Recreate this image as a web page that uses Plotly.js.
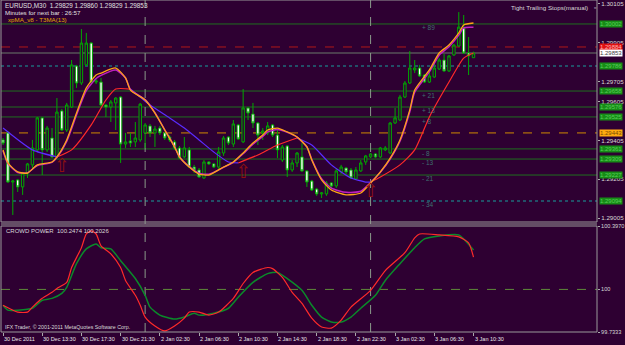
<!DOCTYPE html>
<html><head><meta charset="utf-8">
<script src="https://cdn.plot.ly/plotly-3.0.1.min.js"></script>
<style>html,body{margin:0;padding:0;background:#2e0032;}#c{width:625px;height:345px;}</style>
</head><body><div id="c"></div>
<script>
// ---- data ----
const timeLabels = ['30 Dec 2011','30 Dec 13:30','30 Dec 17:30','30 Dec 21:30','2 Jan 02:30','2 Jan 06:30','2 Jan 10:30','2 Jan 14:30','2 Jan 18:30','2 Jan 22:30','3 Jan 02:30','3 Jan 06:30','3 Jan 10:30'];
const timeTickIdx = [0,8,16,24,32,40,48,56,64,72,80,88,96];

const openP = [1.29407,1.29443,1.29191,1.29202,1.29166,1.29237,1.29279,1.29356,1.29520,1.29356,
1.29417,1.29320,1.29556,1.29458,1.29576,1.29786,1.29699,1.29792,1.29904,1.29704,
1.29704,1.29586,1.29576,1.29597,1.29627,1.29386,1.29402,1.29397,1.29407,1.29443,
1.29479,1.29443,1.29468,1.29443,1.29422,1.29397,1.29366,1.29320,1.29356,1.29268,
1.29253,1.29212,1.29294,1.29284,1.29268,1.29340,1.29422,1.29386,1.29484,1.29397,
1.29571,1.29540,1.29494,1.29443,1.29443,1.29484,1.29432,1.29304,1.29376,1.29253,
1.29289,1.29320,1.29248,1.29196,1.29155,1.29130,1.29130,1.29186,1.29171,1.29243,
1.29263,1.29253,1.29207,1.29248,1.29294,1.29320,1.29335,1.29320,1.29356,1.29340,
1.29494,1.29509,1.29627,1.29699,1.29766,1.29776,1.29740,1.29704,1.29730,1.29771,
1.29817,1.29761,1.29843,1.29889,1.29981,1.29853,1.29829];
const highP = [1.29417,1.29453,1.29202,1.29207,1.29243,1.29289,1.29407,1.29525,1.29525,1.29479,
1.29468,1.29622,1.29566,1.29597,1.29817,1.29792,1.29976,1.29956,1.29909,1.29725,
1.29725,1.29591,1.29612,1.29627,1.29632,1.29443,1.29443,1.29499,1.29597,1.29494,
1.29489,1.29479,1.29479,1.29448,1.29432,1.29407,1.29376,1.29422,1.29371,1.29279,
1.29263,1.29304,1.29299,1.29289,1.29371,1.29427,1.29427,1.29509,1.29489,1.29668,
1.29576,1.29597,1.29499,1.29468,1.29499,1.29489,1.29458,1.29381,1.29381,1.29304,
1.29345,1.29391,1.29253,1.29202,1.29161,1.29140,1.29196,1.29191,1.29263,1.29279,
1.29268,1.29263,1.29268,1.29304,1.29330,1.29340,1.29340,1.29371,1.29376,1.29499,
1.29571,1.29638,1.29709,1.29863,1.29817,1.29792,1.29745,1.29756,1.29802,1.29827,
1.29848,1.29843,1.29899,1.30063,1.30048,1.29935,1.29860];
const lowP = [1.29381,1.29186,1.29022,1.29140,1.29125,1.29212,1.29263,1.29345,1.29227,1.29345,
1.29314,1.29314,1.29453,1.29448,1.29571,1.29674,1.29689,1.29786,1.29699,1.29694,
1.29581,1.29525,1.29499,1.29458,1.29289,1.29366,1.29371,1.29371,1.29397,1.29366,
1.29422,1.29371,1.29432,1.29407,1.29397,1.29356,1.29309,1.29314,1.29263,1.29237,
1.29212,1.29207,1.29279,1.29263,1.29258,1.29325,1.29381,1.29371,1.29407,1.29391,
1.29509,1.29468,1.29381,1.29407,1.29432,1.29422,1.29314,1.29294,1.29217,1.29243,
1.29268,1.29243,1.29166,1.29145,1.29120,1.29109,1.29120,1.29155,1.29161,1.29232,
1.29232,1.29207,1.29202,1.29243,1.29279,1.29314,1.29314,1.29314,1.29350,1.29335,
1.29489,1.29504,1.29622,1.29694,1.29750,1.29730,1.29699,1.29699,1.29725,1.29766,
1.29756,1.29756,1.29838,1.29884,1.29848,1.29740,1.29829];
const closeP = [1.29391,1.29191,1.29196,1.29166,1.29237,1.29284,1.29366,1.29520,1.29356,1.29468,
1.29320,1.29550,1.29458,1.29586,1.29792,1.29699,1.29904,1.29904,1.29704,1.29709,
1.29586,1.29576,1.29602,1.29622,1.29386,1.29397,1.29391,1.29417,1.29591,1.29484,
1.29443,1.29463,1.29443,1.29417,1.29407,1.29366,1.29314,1.29366,1.29268,1.29253,
1.29217,1.29294,1.29284,1.29268,1.29345,1.29417,1.29391,1.29489,1.29412,1.29571,
1.29545,1.29494,1.29432,1.29453,1.29479,1.29432,1.29356,1.29371,1.29253,1.29289,
1.29340,1.29248,1.29191,1.29150,1.29130,1.29135,1.29186,1.29171,1.29248,1.29268,
1.29243,1.29212,1.29253,1.29289,1.29325,1.29335,1.29320,1.29366,1.29366,1.29494,
1.29520,1.29627,1.29699,1.29776,1.29776,1.29735,1.29704,1.29735,1.29776,1.29817,
1.29761,1.29838,1.29894,1.29986,1.29853,1.29838,1.29853];

const fastIdx = [0,1,3,5,7,10,11,13,15,17,19,20,23,25,26,29,31,33,35,36,38,40,42,45,47,49,51,53,54,56,58,60,62,63,65,67,70,73,75,77,79,81,83,84,87,89,91,93,94,96];
const t3maVal = [1.29356,1.29289,1.29243,1.29237,1.29279,1.29294,1.29320,1.29407,1.29545,1.29674,1.29740,1.29750,1.29776,1.29725,1.29663,1.29612,1.29545,1.29458,1.29371,1.29320,1.29268,1.29232,1.29227,1.29268,1.29294,1.29340,1.29391,1.29432,1.29458,1.29468,1.29448,1.29422,1.29371,1.29304,1.29202,1.29150,1.29125,1.29135,1.29186,1.29243,1.29314,1.29407,1.29561,1.29663,1.29766,1.29853,1.29894,1.29956,1.29997,1.30007];
const xpmaFastVal = [1.29352,1.29286,1.29240,1.29239,1.29276,1.29292,1.29317,1.29400,1.29535,1.29660,1.29722,1.29738,1.29766,1.29725,1.29666,1.29614,1.29547,1.29459,1.29373,1.29321,1.29270,1.29236,1.29231,1.29266,1.29292,1.29336,1.29385,1.29425,1.29448,1.29460,1.29446,1.29422,1.29372,1.29308,1.29208,1.29160,1.29138,1.29144,1.29188,1.29241,1.29309,1.29400,1.29552,1.29652,1.29756,1.29842,1.29885,1.29945,1.29982,1.29985];

const slowIdx = [0,6,11,14,18,21,23,26,30,34,37,40,43,46,48,52,56,60,63,67,71,74,75,77,81,84,87,91,94,96];
const slowVal = [1.29468,1.29356,1.29320,1.29356,1.29484,1.29612,1.29668,1.29668,1.29586,1.29520,1.29468,1.29407,1.29345,1.29294,1.29289,1.29330,1.29381,1.29417,1.29381,1.29279,1.29212,1.29191,1.29191,1.29217,1.29279,1.29356,1.29525,1.29704,1.29827,1.29853];

const stopLevels = [1.30002,1.29658,1.29576,1.29525,1.29361,1.29309,1.29227];
const dottedLevels = [1.29786,1.29094];
const redLevel = 1.29884;
const orangeLevel = 1.29443;
const lastPrice = 1.29853;

const fibText = ['+ 89','+ 21','+ 13','+ 8','- 8','- 13','- 21','- 34'];
const fibPrice = [1.29986,1.29633,1.29556,1.29504,1.29340,1.29289,1.29207,1.29078];
const fibBar = 85;

const arrowBar = [12,49,75];
const arrowPrice = [1.29268,1.29237,1.29140];

const sepBars = [29,75];

const priceTicks = [1.30105,1.29905,1.29705,1.29605,1.29405,1.29205,1.29005];

const cpRedIdx = [0,3,5,6,8,10,11,13,14,16,17,18,19,20,22,24,25,27,28,29,31,33,35,37,38,40,42,44,47,49,51,54,55,57,59,61,63,65,67,69,71,75,78,82,84,85,89,93,95,96];
const cpRedVal = [99.901,99.858,99.858,99.889,99.944,99.982,100.006,100.044,100.137,100.261,100.347,100.366,100.347,100.273,100.223,100.137,100.056,99.963,99.901,99.827,99.771,99.740,99.771,99.820,99.858,99.858,99.839,99.858,99.944,100.037,100.106,100.137,100.130,100.075,99.982,99.913,99.820,99.765,99.758,99.808,99.889,99.994,100.118,100.230,100.323,100.347,100.341,100.329,100.292,100.2026];
const cpGreenIdx = [0,1,3,6,8,10,12,13,15,17,19,20,22,24,27,29,30,32,35,37,39,40,43,46,48,51,54,56,58,61,63,65,67,69,71,73,76,78,81,84,86,89,93,94,96];
const cpGreenVal = [99.901,99.870,99.870,99.882,99.932,99.944,99.975,100.013,100.161,100.254,100.285,100.261,100.254,100.180,100.068,99.963,99.889,99.839,99.814,99.827,99.851,99.839,99.851,99.882,99.951,100.044,100.099,100.106,100.068,99.994,99.901,99.827,99.796,99.796,99.827,99.882,99.963,100.056,100.161,100.261,100.316,100.335,100.341,100.316,100.2474];

// ---- layout constants ----
const BG = '#2e0032';
const PH = 332; // plot height px
const upperBottom = 1 - 222/PH;
const lowerTop = 1 - 226/PH;
const FONT = 'Liberation Sans, Arial, sans-serif';
const GREEN = '#1f6e1f';

const bars = openP.map((_, i) => i);
const traces = [];

traces.push({type:'candlestick', x:bars, open:openP, high:highP, low:lowP, close:closeP,
  xaxis:'x', yaxis:'y', hoverinfo:'skip', whiskerwidth:0,
  increasing:{line:{color:'#00a800', width:1}, fillcolor:BG},
  decreasing:{line:{color:'#00a800', width:1}, fillcolor:'#ffffff'}});

// slow MA coloured by slope
let runs = [];
let cur = null;
for (let i = 0; i < slowIdx.length - 1; i++) {
  const d = slowVal[i+1] - slowVal[i];
  let col = d > 0 ? '#ff2a2a' : (d < 0 ? '#5a2cff' : (cur ? cur.col : '#5a2cff'));
  if (!cur || cur.col !== col) { cur = {col, xs:[slowIdx[i]], ys:[slowVal[i]]}; runs.push(cur); }
  cur.xs.push(slowIdx[i+1]); cur.ys.push(slowVal[i+1]);
}
runs.forEach(r => traces.push({type:'scatter', mode:'lines', x:r.xs, y:r.ys, xaxis:'x', yaxis:'y',
  line:{color:r.col, width:1.2, shape:'spline', smoothing:0.6}, hoverinfo:'skip'}));

traces.push({type:'scatter', mode:'lines', x:fastIdx, y:xpmaFastVal, xaxis:'x', yaxis:'y',
  line:{color:'#c020c0', width:1.5, shape:'spline', smoothing:0.6}, hoverinfo:'skip'});
traces.push({type:'scatter', mode:'lines', x:fastIdx, y:t3maVal, xaxis:'x', yaxis:'y',
  line:{color:'#ffa516', width:1.3, shape:'spline', smoothing:0.6}, hoverinfo:'skip'});

// hollow up arrows (signal marks)
traces.push({type:'scatter', mode:'text', x:arrowBar, y:arrowPrice, xaxis:'x', yaxis:'y', text:arrowBar.map(()=>'\u21E7'),
  textfont:{family:'DejaVu Sans, Noto Sans, sans-serif', size:19, color:'#8e1010'}, textposition:'middle center', hoverinfo:'skip'});

traces.push({type:'scatter', mode:'lines', x:cpGreenIdx, y:cpGreenVal, xaxis:'x', yaxis:'y2',
  line:{color:'#0a8a2a', width:1.5, shape:'spline', smoothing:0.6}, hoverinfo:'skip'});
traces.push({type:'scatter', mode:'lines', x:cpRedIdx, y:cpRedVal, xaxis:'x', yaxis:'y2',
  line:{color:'#ff2a2a', width:1.2, shape:'spline', smoothing:0.6}, hoverinfo:'skip'});

const shapes = [];
const hl = (y, color, dash, w) => shapes.push({type:'line', xref:'paper', x0:0, x1:1, yref:'y', y0:y, y1:y, line:{color, width:w||1, dash:dash||'solid'}, layer:'below'});
stopLevels.forEach(v => hl(v, GREEN));
dottedLevels.forEach(v => hl(v, '#1f6a7a', 'dot', 1.5));
hl(redLevel, '#b01818', 'dash');
hl(orangeLevel, '#d08a00', 'dash');
hl(lastPrice, '#6a7a6a');
sepBars.forEach(b => shapes.push({type:'line', xref:'x', x0:b, x1:b, yref:'paper', y0:0, y1:1, line:{color:'#8a9a8a', width:1, dash:'dash'}, layer:'below'}));
shapes.push({type:'line', xref:'paper', x0:0, x1:1, yref:'y2', y0:100, y1:100, line:{color:'#5f8a3a', width:1, dash:'dash'}, layer:'below'});
shapes.push({type:'rect', xref:'paper', x0:0, x1:1, yref:'paper', y0:upperBottom, y1:1, line:{color:'#9a9a9a', width:1}});
shapes.push({type:'rect', xref:'paper', x0:0, x1:1, yref:'paper', y0:0, y1:lowerTop, line:{color:'#9a9a9a', width:1}});
shapes.push({type:'line', xref:'paper', x0:0, x1:1, yref:'paper', y0:upperBottom-2/PH, y1:upperBottom-2/PH, line:{color:'#9a9a9a', width:1}});

const ann = [];
const tx = (text, x, ypx, color, size, anchor) => ann.push({text, xref:'paper', yref:'paper', x, y:1-ypx/PH, xanchor:anchor||'left', yanchor:'middle', showarrow:false, font:{family:FONT, size:size||6, color}});
tx('EURUSD,M30  1.29829 1.29860 1.29829 1.29853', 0.004, 5.5, '#e0e0e0', 6.4);
tx('Minutes for next bar : 26:57', 0.004, 12.5, '#e0e0e0', 6.2);
tx('xpMA_v8 - T3MA(13)', 0.008, 19.5, '#e0a800', 6.2);
tx('Tight Trailing Stops(manual)', 0.988, 7, '#d8d8d8', 6.2, 'right');
tx('\u25AB', 0.992, 7, '#d8d8d8', 7);
tx('CROWD POWER  100.2474 100.2026', 0.005, 231, '#d8d8d8', 6);
tx('IFX Trader, \u00A9 2001-2011 MetaQuotes Software Corp.', 0.003, 326.5, '#d8d8d8', 5.3);

// time labels, left-aligned at their bar
timeTickIdx.forEach((b, i) => ann.push({text:timeLabels[i], xref:'x', yref:'paper', x:b, y:-6.5/PH, xanchor:'left', yanchor:'middle', xshift:-1, showarrow:false, font:{family:FONT, size:5.5, color:'#e6e6e6'}}));

fibText.forEach((t, i) => ann.push({text:t, xref:'x', yref:'y', x:fibBar, y:fibPrice[i], xanchor:'left', yanchor:'middle', showarrow:false, font:{family:FONT, size:6.5, color:'#3f7070'}}));

const box = (v, bg, fg) => ann.push({text:v.toFixed(5), xref:'paper', yref:'y', x:1.004, y:v, xanchor:'left', yanchor:'middle', showarrow:false, bgcolor:bg, borderpad:0, font:{family:FONT, size:6, color:fg}});
stopLevels.forEach(v => box(v, '#168c16', '#5acc5a'));
dottedLevels.forEach(v => box(v, '#168c16', '#5acc5a'));
box(redLevel, '#e01010', '#ffb0b0');
box(orangeLevel, '#ffaa10', '#7a4a00');
box(lastPrice, '#ffffff', '#404040');

const layout = {
  width:625, height:345, paper_bgcolor:BG, plot_bgcolor:BG, showlegend:false,
  margin:{l:1, r:28, t:0, b:13},
  xaxis:{range:[-0.41,121.2], anchor:'y2', tickvals:timeTickIdx, showticklabels:false,
    ticks:'outside', ticklen:3, tickcolor:'#aaaaaa', showgrid:false, zeroline:false, showline:false,
    rangeslider:{visible:false}, fixedrange:true},
  yaxis:{domain:[upperBottom,1], range:[1.28986,1.30125], side:'right', anchor:'x', showgrid:false, zeroline:false,
    tickvals:priceTicks, ticktext:priceTicks.map(v=>v.toFixed(5)), ticks:'outside', ticklen:2, tickcolor:'#aaaaaa',
    tickfont:{family:FONT, size:6.2, color:'#d8d8d8'}},
  yaxis2:{domain:[0,lowerTop], range:[99.7333,100.397], side:'right', anchor:'x', showgrid:false, zeroline:false,
    tickvals:[100.397,100,99.7333], ticktext:['100.3970','100','99.7333'], ticks:'outside', ticklen:2, tickcolor:'#aaaaaa',
    tickfont:{family:FONT, size:5.6, color:'#d8d8d8'}},
  shapes, annotations:ann
};
Plotly.newPlot('c', traces, layout, {staticPlot:true, displayModeBar:false});
</script></body></html>
